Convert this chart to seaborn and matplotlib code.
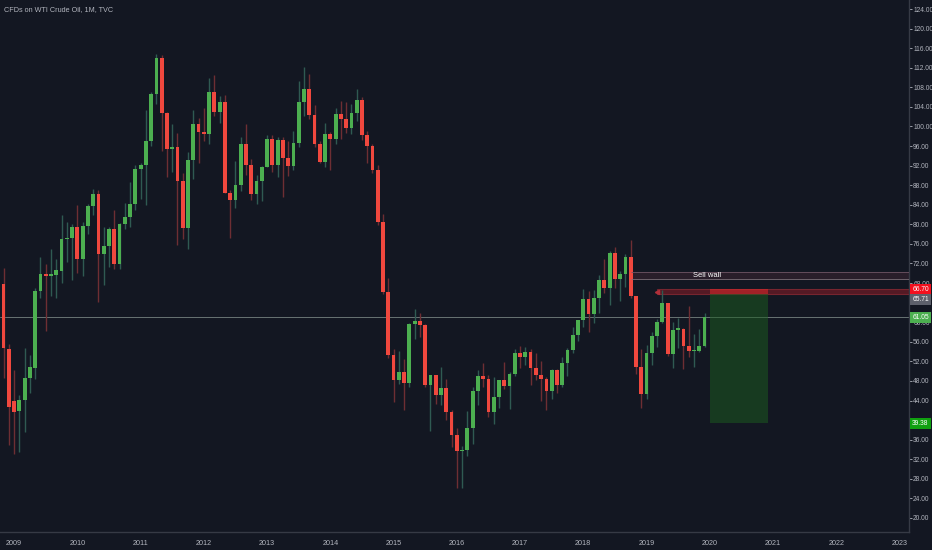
"""
WTI crude monthly candles (TVC CFD) with sell wall / short setup boxes
"""

import pandas as pd
import numpy as np
import matplotlib.pyplot as plt
import matplotlib.patches as mpatches
import matplotlib.transforms as mtransforms
import seaborn as sns

# ── Data (monthly OHLC, Oct 2008 .. Dec 2019) ────────────────────────────────
START = "2008-10-01"
opens = [
    100.6, 67.8, 54.5,
    43.8, 41.9, 44.1, 48.7, 50.6, 66.3, 69.9, 69.4, 69.6, 70.4, 77.0, 77.3,
    79.4, 72.9, 79.7, 83.8, 86.2, 74.0, 75.6, 79.0, 71.9, 80.0, 81.4, 84.1,
    91.4, 92.2, 97.0, 106.7, 113.9, 102.7, 95.4, 95.7, 88.8, 79.2, 93.2, 100.4,
    98.8, 98.5, 107.1, 103.0, 104.9, 86.5, 85.0, 88.1, 96.5, 92.2, 86.2, 88.9,
    91.8, 97.5, 92.1, 97.2, 93.5, 92.0, 96.6, 105.0, 107.7, 102.3, 96.4, 92.7,
    98.4, 97.5, 102.6, 101.6, 99.7, 102.7, 105.4, 98.2, 96.0, 91.2, 80.5, 66.2,
    53.3, 48.2, 49.8, 47.6, 59.6, 60.3, 59.5, 47.1, 49.2, 45.1, 46.6, 41.7,
    37.0, 33.6, 33.8, 38.3, 45.9, 49.1, 48.3, 41.6, 44.7, 48.2, 46.9, 49.4,
    53.7, 52.8, 54.0, 50.6, 49.3, 48.3, 46.0, 50.2, 47.2, 51.7, 54.4, 57.4,
    60.4, 64.7, 61.6, 64.9, 68.6, 67.0, 74.2, 68.8, 69.8, 73.3, 65.3, 50.9,
    45.4, 53.8, 57.2, 60.1, 63.9, 53.5, 58.5, 58.6, 55.1, 54.1, 54.2, 55.2,
]
highs = [
    102.3, 71.0, 55.5,
    50.2, 45.1, 54.7, 53.3, 66.9, 73.4, 71.9, 75.0, 73.0, 82.0, 80.5, 80.0,
    83.9, 80.5, 84.2, 87.2, 87.0, 79.4, 79.4, 82.9, 80.2, 84.4, 88.6, 92.1,
    92.6, 103.4, 107.0, 114.8, 114.5, 102.9, 100.6, 98.6, 90.5, 94.7, 103.4, 101.8,
    103.7, 109.8, 110.6, 106.3, 106.4, 87.0, 92.9, 97.8, 100.4, 93.3, 90.0, 91.9,
    98.2, 98.2, 97.9, 97.8, 97.0, 99.0, 109.3, 112.2, 110.7, 104.4, 97.0, 100.8,
    98.8, 103.8, 105.2, 104.9, 104.5, 107.7, 106.1, 99.0, 96.4, 92.2, 82.1, 69.0,
    54.5, 54.2, 52.5, 59.9, 62.6, 61.8, 59.7, 49.3, 49.3, 50.9, 48.4, 42.0,
    38.4, 34.7, 41.9, 46.8, 50.2, 51.7, 49.2, 48.8, 48.2, 51.9, 49.9, 54.5,
    55.2, 54.9, 54.6, 53.8, 52.0, 48.9, 50.4, 50.4, 52.9, 54.8, 59.1, 60.5,
    66.7, 66.4, 66.6, 69.6, 72.9, 74.5, 75.3, 70.5, 73.9, 76.9, 65.3, 54.6,
    55.4, 57.9, 60.7, 66.6, 63.9, 60.0, 60.9, 58.8, 63.4, 57.5, 58.7, 61.8,
]
lows = [
    62.0, 48.5, 35.0,
    33.0, 33.5, 37.6, 45.5, 48.3, 65.0, 58.3, 65.3, 65.0, 68.0, 72.4, 68.6,
    70.1, 69.5, 78.0, 82.0, 64.2, 67.7, 71.2, 70.8, 70.8, 79.0, 79.5, 83.0,
    85.1, 83.9, 96.0, 104.5, 95.0, 89.7, 90.7, 75.7, 77.1, 74.9, 89.2, 92.5,
    97.0, 96.5, 102.1, 100.7, 86.4, 77.3, 83.3, 86.9, 90.0, 84.9, 84.1, 84.7,
    91.7, 90.6, 89.7, 85.6, 89.9, 91.2, 95.9, 102.2, 101.5, 95.9, 92.5, 91.8,
    91.2, 96.4, 97.4, 98.6, 98.4, 101.1, 97.2, 92.5, 90.4, 79.8, 65.7, 52.7,
    43.6, 47.4, 42.0, 46.7, 56.5, 57.0, 46.7, 37.8, 43.2, 43.0, 40.0, 34.5,
    26.2, 26.1, 32.7, 35.2, 43.0, 46.7, 40.6, 39.2, 42.5, 46.4, 42.2, 49.0,
    50.7, 51.2, 47.1, 48.2, 43.8, 42.1, 44.4, 45.6, 46.7, 49.1, 53.8, 56.1,
    59.1, 58.1, 59.9, 61.9, 66.0, 63.6, 67.0, 64.4, 67.1, 64.9, 49.4, 42.4,
    44.4, 51.2, 55.0, 59.9, 53.0, 50.6, 54.8, 50.5, 52.9, 50.9, 54.0, 55.0,
]
closes = [
    67.8, 54.8, 42.6,
    41.6, 44.1, 48.7, 50.8, 66.3, 69.9, 69.4, 69.9, 70.6, 77.0, 77.3, 79.4,
    72.9, 79.7, 83.8, 86.2, 74.0, 75.6, 79.0, 71.9, 80.0, 81.4, 84.1, 91.4,
    92.2, 97.0, 106.7, 113.9, 102.7, 95.4, 95.7, 88.8, 79.2, 93.2, 100.4, 98.8,
    98.5, 107.1, 103.0, 104.9, 86.5, 85.0, 88.1, 96.5, 92.2, 86.2, 88.9, 91.8,
    97.5, 92.1, 97.2, 93.5, 92.0, 96.6, 105.0, 107.7, 102.3, 96.4, 92.7, 98.4,
    97.5, 102.6, 101.6, 99.7, 102.7, 105.4, 98.2, 96.0, 91.2, 80.5, 66.2, 53.3,
    48.2, 49.8, 47.6, 59.6, 60.3, 59.5, 47.1, 49.2, 45.1, 46.6, 41.7, 37.0,
    33.6, 33.8, 38.3, 45.9, 49.1, 48.3, 41.6, 44.7, 48.2, 46.9, 49.4, 53.7,
    52.8, 54.0, 50.6, 49.3, 48.3, 46.0, 50.2, 47.2, 51.7, 54.4, 57.4, 60.4,
    64.7, 61.6, 64.9, 68.6, 67.0, 74.2, 68.8, 69.8, 73.3, 65.3, 50.9, 45.4,
    53.8, 57.2, 60.1, 63.9, 53.5, 58.5, 58.6, 55.1, 54.1, 54.2, 55.2, 61.05,
]
year_labels = [str(y) for y in range(2009, 2024)]

# drawings (price levels)
last_price  = 61.05
sell_wall   = (68.8, 70.2)
stop_level  = 66.70
entry_level = 65.71
target      = 39.38

# ── Style ────────────────────────────────────────────────────────────────────
BG      = "#131722"
GREEN   = "#4caf50"
RED     = "#f0483e"
GWICK   = "#2f5a52"
RWICK   = "#6e2e33"
TXT     = "#b2b5be"
sns.set_style("dark", {"axes.facecolor": BG, "figure.facecolor": BG})
plt.rcParams["font.family"] = ["Liberation Sans", "DejaVu Sans"]

df = pd.DataFrame({"Open": opens, "High": highs, "Low": lows, "Close": closes})
df["Date"] = pd.date_range(START, periods=len(df), freq="MS")
df["m"] = (df["Date"].dt.year - 2009) * 12 + df["Date"].dt.month - 1
df["up"] = df["Close"] >= df["Open"]

fig = plt.figure(figsize=(9.32, 5.5), dpi=100)
ax = fig.add_axes([0, 18 / 550, 909 / 932, 532 / 550])
ax.set_facecolor(BG)

# ── Candles ──────────────────────────────────────────────────────────────────
wick_cols = np.where(df["up"], GWICK, RWICK)
body_cols = np.where(df["up"], GREEN, RED)
ax.vlines(df["m"], df["Low"], df["High"], colors=wick_cols, linewidth=1.0, zorder=2)
body_lo = df[["Open", "Close"]].min(axis=1)
body_h = (df["Close"] - df["Open"]).abs().clip(lower=0.25)
ax.bar(df["m"], body_h, bottom=body_lo, width=0.72, color=body_cols,
       linewidth=0, zorder=3)

# ── Drawings ─────────────────────────────────────────────────────────────────
x_end = 170.0
ax.axhline(last_price, color="#7e8a88", linewidth=0.7, alpha=0.8, zorder=1)

# sell wall
ax.add_patch(mpatches.Rectangle((117, sell_wall[0]), x_end - 117, sell_wall[1] - sell_wall[0],
                                facecolor="#2c1f2b", alpha=0.9, edgecolor="none", zorder=1))
ax.hlines(sell_wall, 117, x_end, colors=["#7d6f78", "#6e5464"], linewidth=0.6, zorder=4)
ax.text(131.5, sum(sell_wall) / 2, "Sell wall", color="white", fontsize=5.5,
        ha="center", va="center", zorder=5)

# stop band
ax.add_patch(mpatches.Rectangle((121.9, entry_level), x_end - 121.9, stop_level - entry_level,
                                facecolor="#8a1e28", alpha=0.55, edgecolor="#b0303a",
                                linewidth=0.8, zorder=1))
ax.plot([121.9], [(stop_level + entry_level) / 2], marker="<", markersize=3,
        color="#b0303a", zorder=4)

# short position box
ax.add_patch(mpatches.Rectangle((132, target), 11, entry_level - target,
                                facecolor="#1b5e20", alpha=0.5, edgecolor="none", zorder=1))
ax.add_patch(mpatches.Rectangle((132, entry_level), 11, stop_level - entry_level,
                                facecolor="#ff2a2a", alpha=0.45, edgecolor="none", zorder=1))

# ── Axes ─────────────────────────────────────────────────────────────────────
ax.set_xlim(-2.68, 169.8)
ax.set_ylim(17.13, 125.84)
ax.set_xticks(np.arange(0, 169, 12))
ax.set_xticklabels(year_labels)
yt = np.arange(20, 125, 4)
ax.set_yticks(yt)
# labels fully covered by the price badges are left blank
ax.set_yticklabels(["" if v in (40, 64) else f"{v:.2f}" for v in yt])
ax.yaxis.tick_right()
ax.tick_params(axis="y", colors=TXT, labelsize=4.8, length=2, width=0.6, pad=1)
ax.tick_params(axis="x", colors=TXT, labelsize=5.2, length=2.5, width=0.6, pad=3,
               direction="out")
ax.grid(False)
for side in ["top", "left"]:
    ax.spines[side].set_visible(False)
for side in ["right", "bottom"]:
    ax.spines[side].set_color("#363a45")
    ax.spines[side].set_linewidth(1.0)

# price badges on the scale (entry badge nudged down so it does not collide)
trans = mtransforms.blended_transform_factory(ax.transAxes, ax.transData)
badges = [(stop_level, stop_level, "#f2101e"), (entry_level, 64.55, "#5d606b"),
          (last_price, last_price, "#4caf50"), (target, target, "#10a010")]
for val, ypos, col in badges:
    ax.text(1.0035, ypos, f"{val:.2f}", transform=trans, fontsize=4.8, color="white",
            ha="left", va="center", zorder=10, clip_on=False,
            bbox=dict(boxstyle="square,pad=0.3", facecolor=col, edgecolor="none"))

fig.text(4 / 932, 1 - 10 / 550, "CFDs on WTI Crude Oil, 1M, TVC", color=TXT,
         fontsize=5.2, ha="left", va="center")

plt.savefig("out.png", dpi=100, facecolor=BG)
